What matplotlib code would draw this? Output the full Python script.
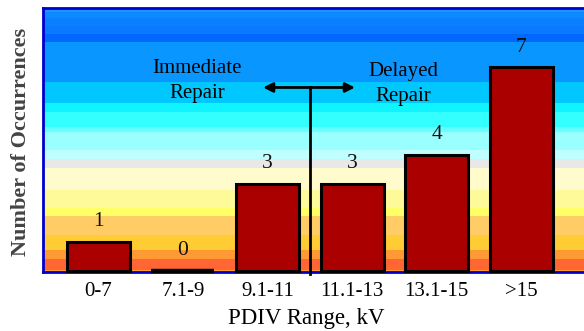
import matplotlib
matplotlib.use('Agg')
import matplotlib.pyplot as plt
from matplotlib.patches import Rectangle
import numpy as np

# data
ranges = ['0-7', '7.1-9', '9.1-11', '11.1-13', '13.1-15', '>15']
occurrences = [1, 0, 3, 3, 4, 7]

plt.rcParams['font.family'] = ['Liberation Serif', 'DejaVu Serif']

fig = plt.figure(figsize=(5.84, 3.31), dpi=100)
ax = fig.add_axes([43/584, 59/331, 541/584, 264/331])

# background bands (top px, bottom px, colour), axes is 8..272 px
bands = [
    (8, 12, '#1E94FF'), (12, 18, '#0E8AFF'), (18, 26, '#0A80FF'),
    (26, 34, '#0A78FF'), (34, 42, '#0068FF'), (42, 82, '#0A96FF'),
    (82, 103, '#00C8FF'), (103, 112, '#10F4FF'), (112, 127, '#33FFFF'),
    (127, 132, '#66FFFF'), (132, 150, '#99FFFF'), (150, 159, '#C0FFFF'),
    (159, 168, '#E8E8E8'), (168, 190, '#FFFBCC'), (190, 208, '#FFFA99'),
    (208, 216, '#FFFF66'), (216, 235, '#FFCC66'), (235, 250, '#FFCC33'),
    (250, 259, '#FF9933'), (259, 270, '#FF6633'), (270, 272, '#FF9933'),
]
for top, bot, c in bands:
    y0 = (272 - bot) / 264
    h = (bot - top) / 264
    ax.add_patch(Rectangle((0, y0), 1, h, transform=ax.transAxes,
                           facecolor=c, edgecolor='none', zorder=0))

x = np.arange(len(ranges))
lws = [3.2 if v == 0 else 2.2 for v in occurrences]
ax.bar(x, occurrences, width=0.745, color='#AA0000', edgecolor='black',
       linewidth=lws, zorder=3, clip_on=False)
for xi, v in zip(x, occurrences):
    ax.text(xi, v + 0.35, str(v), ha='center', va='bottom', fontsize=15.5,
            color='#111111', zorder=4)

ax.set_xlim(-0.654, 5.741)
ax.set_ylim(-0.05, 9.05)
ax.set_xticks(x)
ax.set_xticklabels(ranges, fontsize=15)
ax.set_yticks([])
ax.tick_params(axis='x', length=0, pad=7)

for s in ['left', 'top', 'bottom']:
    ax.spines[s].set_color('#0000CC')
    ax.spines[s].set_linewidth(2)
ax.spines['right'].set_visible(False)

ax.set_xlabel('PDIV Range, kV', fontsize=16.5)
ax.xaxis.set_label_coords(0.486, -0.135)
fig.text(21/584, 1 - 142/331, 'Number of Occurrences', rotation=90,
         ha='center', va='center', fontsize=16, fontweight='bold',
         color='#444444')

# immediate / delayed repair marker
ax.plot([2.5, 2.5], [-0.12, 6.33], color='black', lw=2, zorder=5,
        clip_on=False)
ax.annotate('', xy=(1.947, 6.31), xytext=(3.034, 6.31),
            arrowprops=dict(arrowstyle='<|-|>', color='black', lw=2,
                            mutation_scale=14, shrinkA=0, shrinkB=0),
            zorder=5)
ax.text(1.17, 6.53, 'Immediate\nRepair', ha='center', va='center',
        fontsize=15, linespacing=1.4, zorder=5)
ax.text(3.60, 6.43, 'Delayed\nRepair', ha='center', va='center',
        fontsize=15, linespacing=1.4, zorder=5)

plt.savefig('out.png', dpi=100)
plt.close()
